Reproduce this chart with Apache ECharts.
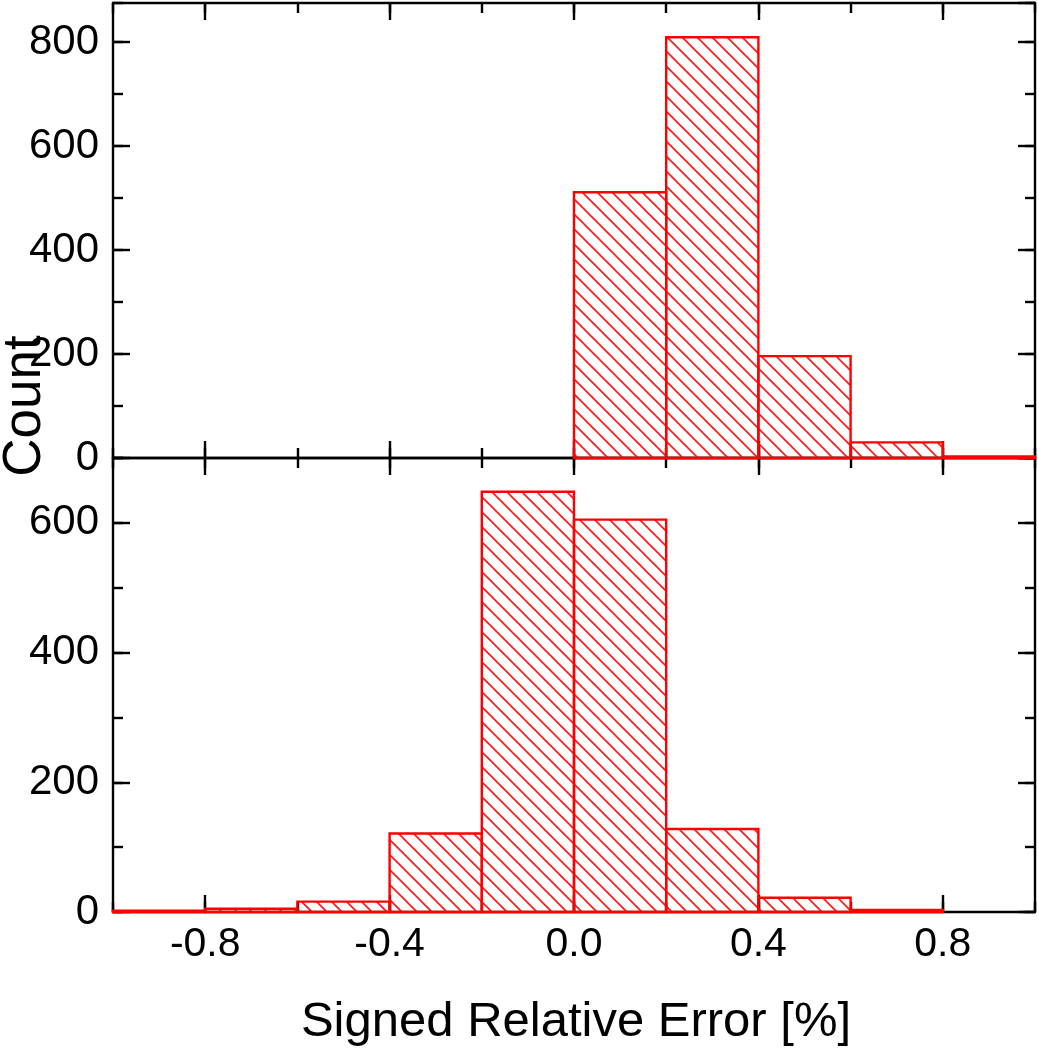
<!DOCTYPE html>
<html>
<head>
<meta charset="utf-8">
<script src="https://cdn.jsdelivr.net/npm/echarts@6/dist/echarts.min.js"></script>
<style>html,body{margin:0;padding:0;background:#fff;}#c{width:1038px;height:1050px;}</style>
</head>
<body>
<div id="c"></div>
<script>
var binEdges = [-1.0, -0.8, -0.6, -0.4, -0.2, 0.0, 0.2, 0.4, 0.6, 0.8, 1.0];
var topCounts = [0, 0, 0, 0, 0, 511, 809, 196, 30, 3];
var bottomCounts = [2, 5, 16, 121, 648, 605, 128, 22, 3, 0];
var xLabel = 'Signed Relative Error [%]';
var yLabel = 'Count';

var FONT = 'Liberation Sans, Arial, sans-serif';

// hatch pattern
var pc = document.createElement('canvas');
pc.width = 15; pc.height = 15;
var ctx = pc.getContext('2d');
ctx.strokeStyle = 'rgba(255,0,0,0.9)';
ctx.lineWidth = 1.7;
for (var k = -1; k <= 1; k++) {
  ctx.beginPath();
  ctx.moveTo(k * 15 - 1, -1);
  ctx.lineTo(k * 15 + 16, 16);
  ctx.stroke();
}
var hatch = { type: 'pattern', image: pc, repeat: 'repeat' };

function binData(counts) {
  var out = [];
  for (var i = 0; i < counts.length; i++) out.push([binEdges[i], binEdges[i + 1], counts[i]]);
  return out;
}

function renderBar(params, api) {
  var v = api.value(2);
  if (!v) return null;
  var p0 = api.coord([api.value(0), v]);
  var p1 = api.coord([api.value(1), 0]);
  return {
    type: 'rect',
    shape: { x: p0[0], y: p0[1], width: p1[0] - p0[0], height: p1[1] - p0[1] },
    style: { fill: hatch, stroke: '#ff0000', lineWidth: 2.4 }
  };
}

var black = '#000';
var lineStyle = { color: black, width: 2.4 };
var MAJ = 17, MIN = 10;

function xAx(grid, pos, min, max, interval, len, showLine, showLabel) {
  return {
    type: 'value', gridIndex: grid, position: pos, min: min, max: max, interval: interval,
    axisLine: { show: showLine, onZero: false, lineStyle: lineStyle },
    axisTick: { show: true, inside: true, length: len, lineStyle: lineStyle },
    axisLabel: { show: showLabel, margin: 12, fontSize: 41, fontFamily: FONT, color: black,
      formatter: function (v) { return v.toFixed(1); } },
    splitLine: { show: false }
  };
}
function yAx(grid, pos, max, interval, len, showLine, showLabel) {
  return {
    type: 'value', gridIndex: grid, position: pos, min: 0, max: max, interval: interval,
    axisLine: { show: showLine, onZero: false, lineStyle: lineStyle },
    axisTick: { show: true, inside: true, length: len, lineStyle: lineStyle },
    axisLabel: { show: showLabel, margin: 14, fontSize: 42, fontFamily: FONT, color: black,
      showMaxLabel: false },
    splitLine: { show: false }
  };
}

var option = {
  animation: false,
  backgroundColor: '#fff',
  grid: [
    { left: 113, top: 3, width: 922, height: 455 },
    { left: 113, top: 458, width: 922, height: 454 },
    { left: 205.2, top: 3, width: 737.6, height: 455 },
    { left: 205.2, top: 458, width: 737.6, height: 454 }
  ],
  xAxis: [
    xAx(0, 'bottom', -1, 1, 0.2, MIN, true, false),
    xAx(0, 'top', -1, 1, 0.2, MIN, true, false),
    xAx(1, 'bottom', -1, 1, 0.2, MIN, true, false),
    xAx(1, 'top', -1, 1, 0.2, MIN, true, false),
    xAx(2, 'bottom', -0.8, 0.8, 0.4, MAJ, false, false),
    xAx(2, 'top', -0.8, 0.8, 0.4, MAJ, false, false),
    xAx(3, 'bottom', -0.8, 0.8, 0.4, MAJ, false, true),
    xAx(3, 'top', -0.8, 0.8, 0.4, MAJ, false, false)
  ],
  yAxis: [
    yAx(0, 'left', 875, 100, MIN, true, false),
    yAx(0, 'left', 875, 200, MAJ, false, true),
    yAx(0, 'right', 875, 100, MIN, true, false),
    yAx(0, 'right', 875, 200, MAJ, false, false),
    yAx(1, 'left', 700, 100, MIN, true, false),
    yAx(1, 'left', 700, 200, MAJ, false, true),
    yAx(1, 'right', 700, 100, MIN, true, false),
    yAx(1, 'right', 700, 200, MAJ, false, false),
    { type: 'value', gridIndex: 2, show: false },
    { type: 'value', gridIndex: 3, show: false }
  ],
  series: [
    { type: 'custom', xAxisIndex: 0, yAxisIndex: 0, renderItem: renderBar,
      encode: { x: [0, 1], y: 2 }, data: binData(topCounts), clip: false, z: 1 },
    { type: 'custom', xAxisIndex: 2, yAxisIndex: 4, renderItem: renderBar,
      encode: { x: [0, 1], y: 2 }, data: binData(bottomCounts), clip: false, z: 1 }
  ],
  graphic: [
    { type: 'text', x: 576, y: 1022,
      style: { text: xLabel, font: '49px ' + FONT, fill: black, textAlign: 'center', textVerticalAlign: 'middle' } },
    { type: 'text', x: 25, y: 406, rotation: Math.PI / 2,
      style: { text: yLabel, font: '53px ' + FONT, fill: black, textAlign: 'center', textVerticalAlign: 'middle' } }
  ]
};

var chart = echarts.init(document.getElementById('c'), null, { renderer: 'canvas' });
chart.setOption(option);
</script>
</body>
</html>
